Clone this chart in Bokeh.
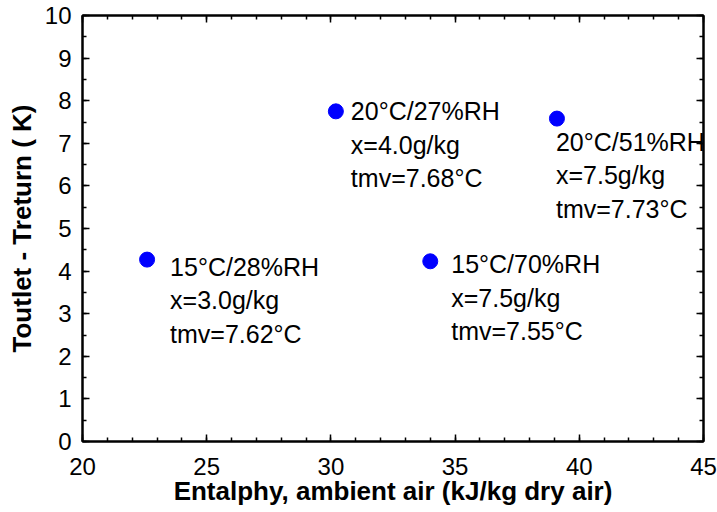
from bokeh.plotting import figure
from bokeh.models import LinearAxis, FixedTicker, Range1d, ColumnDataSource, LabelSet
from bokeh.core.properties import value
from bokeh.embed import file_html
from bokeh.resources import INLINE

# data
enthalpy = [22.6, 30.2, 39.1, 34.0]
delta_t = [4.27, 7.75, 7.58, 4.23]
cond_lbl = ["15°C/28%RH", "20°C/27%RH", "20°C/51%RH", "15°C/70%RH"]
x_lbl = ["x=3.0g/kg", "x=4.0g/kg", "x=7.5g/kg", "x=7.5g/kg"]
tmv_lbl = ["tmv=7.62°C", "tmv=7.68°C", "tmv=7.73°C", "tmv=7.55°C"]
x_ticks = [20, 25, 30, 35, 40, 45]
y_ticks = [0, 1, 2, 3, 4, 5, 6, 7, 8, 9, 10]

# label placement (pixel offsets from each point, downwards)
lbl_dx = [23, 15, -1, 21]
lbl_dy = [7, 0, 23, 3]
line_gap = 33.5

FONT = "Liberation Sans"

p = figure(width=717, height=512, output_backend="svg", toolbar_location=None,
           x_range=Range1d(20, 45), y_range=Range1d(0, 10),
           min_border_left=82, min_border_right=14, min_border_top=15, min_border_bottom=71,
           x_axis_label="Entalphy, ambient air (kJ/kg dry air)",
           y_axis_label="Toutlet - Treturn ( K)")
p.grid.visible = False
p.outline_line_color = "black"
p.outline_line_width = 2
p.background_fill_color = "white"
p.border_fill_color = "white"

x_minor = [v for v in range(20, 46)]
y_minor = [v * 0.5 for v in range(0, 21)]

def style(ax, ticks, minor, labels=True):
    ax.ticker = FixedTicker(ticks=ticks, minor_ticks=minor)
    ax.axis_line_color = "black"
    ax.axis_line_width = 2
    ax.major_tick_in = 7
    ax.major_tick_out = 0
    ax.minor_tick_in = 4
    ax.minor_tick_out = 0
    ax.major_tick_line_width = 1.5
    ax.minor_tick_line_width = 1.5
    ax.major_tick_line_color = "black"
    ax.minor_tick_line_color = "black"
    if labels:
        ax.major_label_text_font = FONT
        ax.major_label_text_font_size = "24px"
        ax.major_label_text_color = "black"
        ax.axis_label_text_font = FONT
        ax.axis_label_text_font_size = "26px"
        ax.axis_label_text_font_style = "bold"
        ax.axis_label_text_color = "black"
    else:
        ax.major_label_text_font_size = "0px"
        ax.major_label_text_color = None
        ax.major_label_standoff = 0

style(p.xaxis[0], x_ticks, x_minor)
style(p.yaxis[0], y_ticks, y_minor)
p.xaxis[0].major_label_standoff = 16
p.xaxis[0].axis_label_standoff = -2
p.yaxis[0].major_label_standoff = 11
p.yaxis[0].axis_label_standoff = 5

top = LinearAxis()
style(top, x_ticks, x_minor, labels=False)
p.add_layout(top, "above")
right = LinearAxis()
style(right, y_ticks, y_minor, labels=False)
p.add_layout(right, "right")

src = ColumnDataSource(dict(x=enthalpy, y=delta_t))
p.scatter("x", "y", source=src, size=15, fill_color="#0000ff", line_color="#0000ff")

tx, ty, tt, ox, oy = [], [], [], [], []
for i in range(len(enthalpy)):
    for k, lines in enumerate((cond_lbl, x_lbl, tmv_lbl)):
        tx.append(enthalpy[i])
        ty.append(delta_t[i])
        tt.append(lines[i])
        ox.append(lbl_dx[i])
        oy.append(-(lbl_dy[i] + k * line_gap))
tsrc = ColumnDataSource(dict(x=tx, y=ty, text=tt, ox=ox, oy=oy))
labels = LabelSet(x="x", y="y", text="text", x_offset="ox", y_offset="oy", source=tsrc,
                  text_font=value(FONT), text_font_size="25px", text_color="black",
                  text_align="left", text_baseline="middle")
p.add_layout(labels)

open("out.html", "w").write(file_html(p, INLINE))
